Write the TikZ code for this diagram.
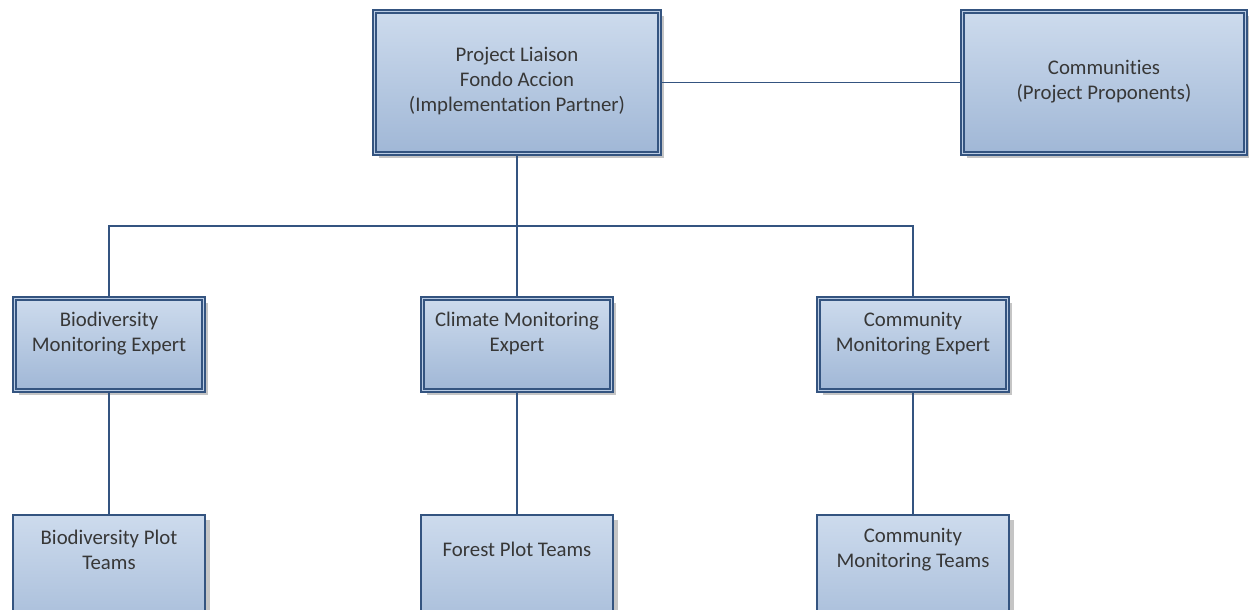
\documentclass[tikz,border=0pt]{standalone}
\usepackage{fontspec}
\setmainfont[RawFeature={-liga;-clig;-dlig}]{Carlito}
\usetikzlibrary{shadows}
\definecolor{bfill}{RGB}{186,204,228}
\definecolor{btop}{RGB}{205,219,237}
\definecolor{bbot}{RGB}{160,183,214}
\definecolor{bline}{RGB}{52,84,128}
\definecolor{tcol}{RGB}{55,55,55}
\begin{document}
\begin{tikzpicture}[x=0.75pt,y=-0.75pt,
  box/.style={rectangle, draw=bline, line width=1.1pt, top color=btop, bottom color=bbot,
    drop shadow={shadow xshift=3.5pt, shadow yshift=-3.5pt, fill=black!45, opacity=0.5}},
  dbox/.style={box, double=bfill, double distance=1.3pt},
  txt/.style={align=center, text=tcol, font=\fontsize{15.6pt}{18.75pt}\selectfont, inner sep=0pt},
  conn/.style={draw=bline, line width=1.1pt}]
\clip (0,0) rectangle (1249,610);
\fill[white] (0,0) rectangle (1249,610);
% top row
\node[dbox, minimum width=285*0.75pt, minimum height=142*0.75pt] (pl) at (517,82.5) {};
\node[dbox, minimum width=283*0.75pt, minimum height=142*0.75pt] (comm) at (1104,82.5) {};
% middle row
\node[dbox, minimum width=189*0.75pt, minimum height=92*0.75pt] (bio) at (109,344.5) {};
\node[dbox, minimum width=189*0.75pt, minimum height=92*0.75pt] (cli) at (517,344.5) {};
\node[dbox, minimum width=189*0.75pt, minimum height=92*0.75pt] (cme) at (913,344.5) {};
% bottom row
\node[box, minimum width=192*0.75pt, minimum height=135*0.75pt] (bpt) at (109,582.5) {};
\node[box, minimum width=192*0.75pt, minimum height=135*0.75pt] (fpt) at (517,582.5) {};
\node[box, minimum width=192*0.75pt, minimum height=135*0.75pt] (cmt) at (913,582.5) {};
% texts
\node[txt] (plt) at (517,81) {Project Liaison\\Fondo Accion\\(Implementation Partner)};
\node[txt] (commt) at (1104,81.5) {Communities\\(Project Proponents)};
\node[txt] (biot) at (109,333.5) {Biodiversity\\Monitoring Expert};
\node[txt] (clit) at (517,333.5) {Climate Monitoring\\Expert};
\node[txt] (cmet) at (913,333.5) {Community\\Monitoring Expert};
\node[txt] (bptt) at (109,549.5) {Biodiversity Plot\\Teams};
\node[txt] (fptt) at (517,549) {Forest Plot Teams};
\node[txt] (cmtt) at (913,549.5) {Community\\Monitoring Teams};
% connectors
\coordinate (bus) at (517,226);
\draw[conn] (pl.east) -- (comm.west);
\draw[conn] (pl.south) -- (cli.north);
\draw[conn] (bio.north) |- (bus) -| (cme.north);
\draw[conn] (bio.south) -- (bpt.north);
\draw[conn] (cli.south) -- (fpt.north);
\draw[conn] (cme.south) -- (cmt.north);
\end{tikzpicture}
\end{document}
